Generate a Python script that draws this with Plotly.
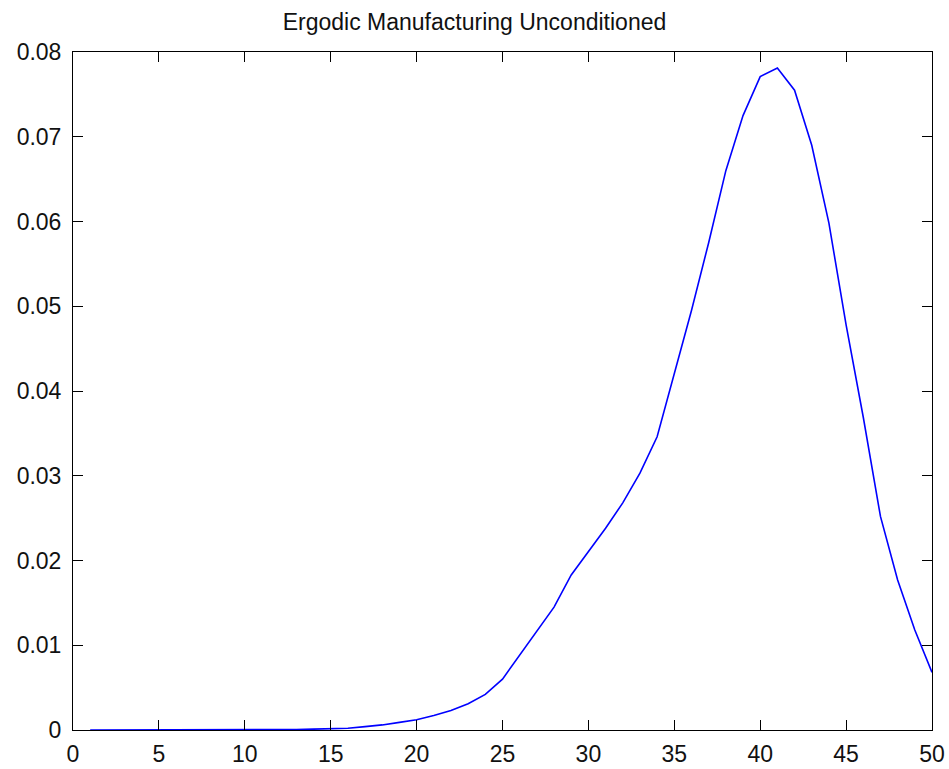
import plotly.graph_objects as go

# Ergodic (unconditioned) distribution over manufacturing states 1..50
states = list(range(1, 51))
probability = [
    0.0, 0.0, 0.0, 0.0, 0.0, 0.0, 0.0, 0.0, 0.0, 0.0,
    0.00001, 0.00002, 0.00005, 0.0001, 0.00015, 0.0002, 0.0004, 0.0006, 0.0009, 0.0012,
    0.0017, 0.0023, 0.0031, 0.0042, 0.0060, 0.0088, 0.0116, 0.0145, 0.0183, 0.0210,
    0.0238, 0.0268, 0.0303, 0.0346, 0.0420, 0.0495, 0.0575, 0.0660, 0.0725, 0.0771,
    0.0781, 0.0755, 0.0690, 0.0598, 0.0478, 0.0369, 0.0252, 0.0177, 0.0118, 0.0068,
]

x_ticks = list(range(0, 51, 5))
y_ticks = [i / 100 for i in range(0, 9)]
y_tick_labels = ["0", "0.01", "0.02", "0.03", "0.04", "0.05", "0.06", "0.07", "0.08"]
title_text = "Ergodic Manufacturing Unconditioned"

font_family = "Liberation Sans, Arial, sans-serif"

fig = go.Figure(
    go.Scatter(
        x=states,
        y=probability,
        mode="lines",
        line=dict(color="#0000ff", width=1.6),
        hoverinfo="x+y",
    )
)

axis_common = dict(
    showgrid=False,
    zeroline=False,
    showline=True,
    linecolor="black",
    linewidth=1,
    mirror="ticks",
    ticks="inside",
    ticklen=10,
    tickwidth=1,
    tickcolor="black",
    automargin=False,
    tickfont=dict(family=font_family, size=23, color="#111111"),
)

fig.update_layout(
    width=949,
    height=769,
    margin=dict(l=73, r=17, t=52, b=39, pad=0),
    paper_bgcolor="white",
    plot_bgcolor="white",
    showlegend=False,
    title=dict(
        text=title_text,
        x=0.5,
        xanchor="center",
        y=1 - 22 / 769,
        yanchor="middle",
        font=dict(family=font_family, size=23, color="#111111"),
    ),
    xaxis=dict(
        range=[0, 50],
        tickvals=x_ticks,
        ticktext=[str(v) for v in x_ticks],
        ticklabelstandoff=3,
        **axis_common,
    ),
    yaxis=dict(
        range=[0, 0.08],
        tickvals=y_ticks,
        ticktext=y_tick_labels,
        ticklabelstandoff=6,
        **axis_common,
    ),
)

fig.write_html("out.html")
